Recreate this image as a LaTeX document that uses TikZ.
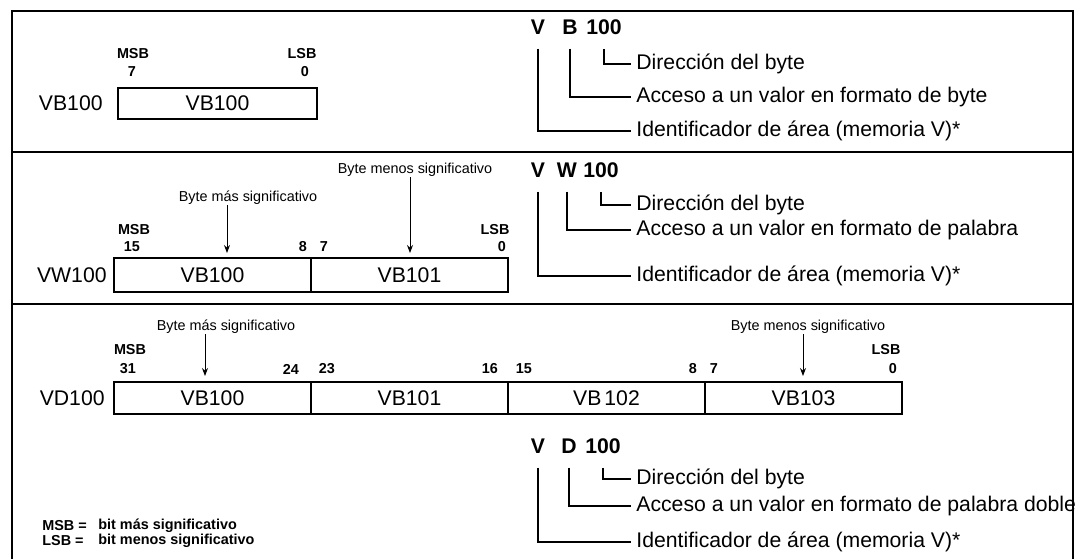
\documentclass[tikz,border=0pt]{standalone}
\usepackage{fontspec}
\setmainfont{Liberation Sans}
\usetikzlibrary{arrows.meta}

\begin{document}
\begin{tikzpicture}[
  x=0.5pt,
  y=-0.5pt,
  font=\fontsize{10.6}{12}\selectfont,
  frame/.style={line width=0.8pt},
  cell/.style={draw, line width=0.6pt, inner sep=0, minimum width=98.5pt, minimum height=16pt},
  bitlbl/.style={inner sep=0, font=\bfseries\fontsize{7.2}{8}\selectfont},
  bytelbl/.style={inner sep=0, font=\fontsize{7.2}{8}\selectfont},
  hdr/.style={inner sep=0, font=\bfseries\fontsize{10.6}{12}\selectfont},
  desc/.style={anchor=west, inner xsep=2.5pt, inner ysep=0},
  lead/.style={line width=0.6pt},
  arr/.style={line width=0.5pt, -{Stealth[length=4pt,width=3pt]}}
]
\useasboundingbox (0,0) rectangle (1084,559);

% frame and dividers
\draw[frame] (12,559) -- (12,11) -- (1073,11) -- (1073,559);
\draw[frame] (12,152) -- (1073,152);
\draw[frame] (12,304) -- (1073,304);

% Byte: VB100
\node[bitlbl] (msb1) at (133,54) {MSB};
\node[bitlbl] (lsb1) at (302,54) {LSB};
\node[bitlbl] (hi1) at (132,72) {7};
\node[bitlbl] (lo1) at (305,72) {0};
\node[cell, minimum width=99.5pt, minimum height=15.5pt] (c1a) at (217.5,103.5) {VB100};
\node[anchor=east, inner sep=0] (lab1) at (103,103.5) {VB100};

\node[hdr] (v1) at (538,27) {V};
\node[hdr] (b1) at (570,27) {B};
\node[hdr] (n1) at (604,27) {100};
\node[desc] (dir1) at (631,64) {Dirección del byte};
\node[desc] (acc1) at (631,97) {Acceso a un valor en formato de byte};
\node[desc] (id1) at (631,131) {Identificador de área (memoria V)*};
\draw[lead] ([yshift=-7pt]n1.south) |- (dir1.west);
\draw[lead] ([yshift=-7pt]b1.south) |- (acc1.west);
\draw[lead] ([yshift=-7pt]v1.south) |- (id1.west);

% Word: VW100
\node[bytelbl] (menos2) at (415,170) {Byte menos significativo};
\node[bytelbl] (mas2) at (248,198) {Byte más significativo};
\node[bitlbl] (msb2) at (134,230) {MSB};
\node[bitlbl] (lsb2) at (495,230) {LSB};
\foreach \x/\b [count=\i] in {132/15,303/8,324/7,502/0} {
  \node[bitlbl] (bit2-\i) at (\x,247) {\b};
}
\node[cell, minimum height=17pt] (c2a) at (212.5,275) {VB100};
\node[cell, minimum height=17pt] (c2b) at (409.5,275) {VB101};
\node[anchor=east, inner sep=0] (lab2) at (107,275) {VW100};
\coordinate (tip2a) at (227,253);
\coordinate (tip2b) at (410,253);
\draw[arr] (mas2.south -| tip2a) -- (tip2a);
\draw[arr] (menos2.south -| tip2b) -- (tip2b);

\node[hdr] (v2) at (538,170) {V};
\node[hdr] (w2) at (567,170) {W};
\node[hdr] (n2) at (601,170) {100};
\node[desc] (dir2) at (631,205) {Dirección del byte};
\node[desc] (acc2) at (631,230) {Acceso a un valor en formato de palabra};
\node[desc] (id2) at (631,276) {Identificador de área (memoria V)*};
\draw[lead] ([yshift=-7pt]n2.south) |- (dir2.west);
\draw[lead] ([yshift=-7pt]w2.south) |- (acc2.west);
\draw[lead] ([yshift=-7pt]v2.south) |- (id2.west);

% Double word: VD100
\node[bytelbl] (mas3) at (226,327) {Byte más significativo};
\node[bytelbl] (menos3) at (808,327) {Byte menos significativo};
\node[bitlbl] (msb3) at (130,350) {MSB};
\node[bitlbl] (lsb3) at (886,350) {LSB};
\foreach \x/\b [count=\i] in {128/31,291/24,327/23,490/16,524/15,693/8,714/7,893/0} {
  \node[bitlbl] (bit3-\i) at (\x,369) {\b};
}
\node[cell] (c3a) at (212.5,398) {VB100};
\node[cell] (c3b) at (409.5,398) {VB101};
\node[cell] (c3c) at (606.5,398) {VB\kern1.5pt 102};
\node[cell] (c3d) at (803.5,398) {VB103};
\node[anchor=east, inner sep=0] (lab3) at (105,398) {VD100};
\coordinate (tip3a) at (205,376);
\coordinate (tip3b) at (803,376);
\draw[arr] (mas3.south -| tip3a) -- (tip3a);
\draw[arr] (menos3.south -| tip3b) -- (tip3b);

\node[hdr] (v3) at (538,446) {V};
\node[hdr] (d3) at (569,446) {D};
\node[hdr] (n3) at (603,446) {100};
\node[desc] (dir3) at (631,479) {Dirección del byte};
\node[desc] (acc3) at (631,506) {Acceso a un valor en formato de palabra doble};
\node[desc] (id3) at (631,542) {Identificador de área (memoria V)*};
\draw[lead] ([yshift=-7pt]n3.south) |- (dir3.west);
\draw[lead] ([yshift=-7pt]d3.south) |- (acc3.west);
\draw[lead] ([yshift=-7pt]v3.south) |- (id3.west);

% legend
\node[bitlbl, anchor=west] (msbkey) at (42,526) {MSB =};
\node[bitlbl, anchor=west] (msbtxt) at (98,526) {bit más significativo};
\node[bitlbl, anchor=west] (lsbkey) at (42,541) {LSB =};
\node[bitlbl, anchor=west] (lsbtxt) at (98,541) {bit menos significativo};
\end{tikzpicture}
\end{document}
